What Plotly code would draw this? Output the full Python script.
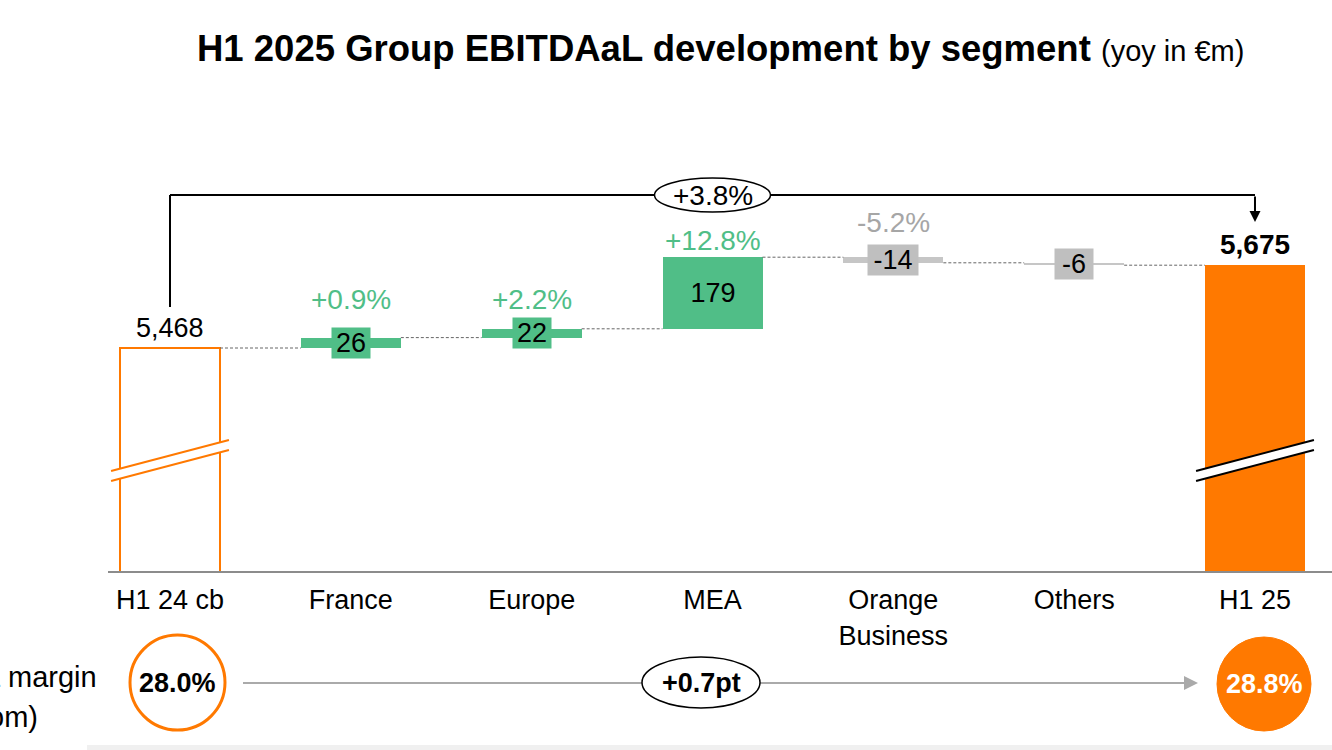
import plotly.graph_objects as go

# ---------------- data ----------------
categories = ["H1 24 cb", "France", "Europe", "MEA", "Orange<br>Business", "Others", "H1 25"]
start_value = 5468
end_value = 5675
deltas = [26, 22, 179, -14, -6]
growth_labels = ["+0.9%", "+2.2%", "+12.8%", "-5.2%", None]
start_label = "5,468"
end_label = "5,675"
total_growth = "+3.8%"
margin_labels = ["28.0%", "28.8%"]
margin_change = "+0.7pt"

# ---------------- style ----------------
FONT = "Liberation Sans, Arial, Helvetica, sans-serif"
ORANGE = "#FF7900"
GREEN = "#50BE87"
GREY_BAR = "#C6C6C6"
GREY_BOX = "#BFBFBF"
GREY_TXT = "#A6A6A6"
BAR_W = 0.553
Y_MIN, Y_MAX = 4910.5, 6088
PLOT_L, PLOT_W, PLOT_T, PLOT_B = 108, 1224, 100, 571
PLOT_H = PLOT_B - PLOT_T
X_MIN = -0.3429
X_MAX = X_MIN + PLOT_W / 180.83
BRACKET_Y = 5850.5
BRACKET_START = 5570.5
ARROW_TIP = 5783
BREAK_LOW = (5135.5, 5213)
BREAK_GAP = 25
growth_shift = [38, 29, 17, 35, 0]


def px(xp):
    return (xp - PLOT_L) / PLOT_W


def py(yp):
    return (PLOT_B - yp) / PLOT_H


# running totals
seg_bases = []
cum = start_value
for d in deltas:
    seg_bases.append(cum)
    cum += d
levels = [start_value] + [b + d for b, d in zip(seg_bases, deltas)]

xs = list(range(len(categories)))
bar_base = [0] + seg_bases + [0]
bar_y = [start_value] + deltas + [end_value]
bar_colors = ["white"] + [GREEN if d > 0 else GREY_BAR for d in deltas] + [ORANGE]
line_colors = [ORANGE] + [GREEN if d > 0 else GREY_BAR for d in deltas] + [ORANGE]
line_widths = [2] + [0] * len(deltas) + [0]

fig = go.Figure()
fig.add_trace(go.Bar(
    x=xs, y=bar_y, base=bar_base, width=BAR_W,
    marker=dict(color=bar_colors, line=dict(color=line_colors, width=line_widths)),
    hoverinfo="skip", showlegend=False,
))

shapes = []
annotations = []


def note(**kw):
    kw.setdefault("xanchor", "center")
    kw.setdefault("yanchor", "middle")
    kw.setdefault("showarrow", False)
    annotations.append(kw)


# dashed connectors
for i, lv in enumerate(levels):
    shapes.append(dict(type="line", xref="x", yref="y",
                       x0=i + BAR_W / 2, x1=i + 1 - BAR_W / 2, y0=lv, y1=lv,
                       line=dict(color="#666666", width=1, dash="3px,2px")))

# axis breaks on the two total bars
for i, col in [(0, ORANGE), (len(categories) - 1, "black")]:
    x0, x1 = i - 0.326, i + 0.326
    ya, yb = BREAK_LOW
    shapes.append(dict(type="path", xref="x", yref="y",
                       path=f"M {x0},{ya} L {x1},{yb} L {x1},{yb + BREAK_GAP} L {x0},{ya + BREAK_GAP} Z",
                       fillcolor="white", line=dict(width=0)))
    for off in (0, BREAK_GAP):
        shapes.append(dict(type="line", xref="x", yref="y",
                           x0=x0, x1=x1, y0=ya + off, y1=yb + off,
                           line=dict(color=col, width=2)))

# bracket
last = len(categories) - 1
shapes.append(dict(type="line", xref="x", yref="y", x0=0, x1=0,
                   y0=BRACKET_START, y1=BRACKET_Y, line=dict(color="black", width=2)))
shapes.append(dict(type="line", xref="x", yref="y", x0=0, x1=last,
                   y0=BRACKET_Y, y1=BRACKET_Y, line=dict(color="black", width=2)))
annotations.append(dict(x=last, y=ARROW_TIP, ax=last, ay=BRACKET_Y, xref="x", yref="y",
                        axref="x", ayref="y", text="", showarrow=True, arrowhead=2,
                        arrowwidth=2, arrowsize=1.1, arrowcolor="black", standoff=0))
shapes.append(dict(type="circle", xref="x", yref="y", xsizemode="pixel", ysizemode="pixel",
                   xanchor=3, yanchor=BRACKET_Y, x0=-58, x1=58, y0=-17, y1=17,
                   fillcolor="white", line=dict(color="black", width=1.5)))
note(x=3, y=BRACKET_Y, xref="x", yref="y", text=total_growth,
     font=dict(family=FONT, size=28, color="black"))

# total labels
note(x=0, y=start_value, xref="x", yref="y", text=start_label, yshift=20,
     font=dict(family=FONT, size=27, color="black"))
note(x=last, y=end_value, xref="x", yref="y", text=f"<b>{end_label}</b>", yshift=21,
     font=dict(family=FONT, size=28, color="black"))

# delta labels
for k, (b, d) in enumerate(zip(seg_bases, deltas)):
    i = k + 1
    col = GREEN if d > 0 else GREY_BOX
    txt = f"{d}"
    note(x=i, y=b + d / 2, xref="x", yref="y", text=txt, bgcolor=col, borderpad=0,
         width=12 * len(txt) + 14, height=30,
         font=dict(family=FONT, size=27, color="black"))
    g = growth_labels[k]
    if g:
        note(x=i, y=max(b, b + d), xref="x", yref="y", text=g, yshift=growth_shift[k],
             font=dict(family=FONT, size=28, color=GREEN if d > 0 else GREY_TXT))

# bottom margin row
shapes.append(dict(type="line", xref="paper", yref="paper",
                   x0=px(243), x1=px(1188), y0=py(683), y1=py(683),
                   line=dict(color="#AAAAAA", width=2)))
annotations.append(dict(x=px(1198), y=py(683), xref="paper", yref="paper",
                        ax=-20, ay=0, axref="pixel", ayref="pixel", text="",
                        showarrow=True, arrowhead=2, arrowwidth=2, arrowsize=1.4,
                        arrowcolor="#AAAAAA", standoff=0))
shapes.append(dict(type="circle", xref="paper", yref="paper",
                   x0=px(130), x1=px(225), y0=py(730), y1=py(635),
                   fillcolor="white", line=dict(color=ORANGE, width=3)))
note(x=px(177.5), y=py(683), xref="paper", yref="paper",
     text=f"<b>{margin_labels[0]}</b>", font=dict(family=FONT, size=27, color="black"))
shapes.append(dict(type="circle", xref="paper", yref="paper",
                   x0=px(642), x1=px(760), y0=py(708), y1=py(657),
                   fillcolor="white", line=dict(color="black", width=1.5)))
note(x=px(701), y=py(683), xref="paper", yref="paper",
     text=f"<b>{margin_change}</b>", font=dict(family=FONT, size=27, color="black"))
shapes.append(dict(type="circle", xref="paper", yref="paper",
                   x0=px(1217), x1=px(1311), y0=py(731), y1=py(637),
                   fillcolor=ORANGE, line=dict(color=ORANGE, width=1)))
note(x=px(1264), y=py(684), xref="paper", yref="paper",
     text=f"<b>{margin_labels[1]}</b>", font=dict(family=FONT, size=27, color="white"))
note(x=px(99), y=py(677), xref="paper", yref="paper", xanchor="right",
     text="EBITDAaL margin", font=dict(family=FONT, size=29, color="black"))
note(x=px(40), y=py(717), xref="paper", yref="paper", xanchor="right",
     text="(in %, yoy from)", font=dict(family=FONT, size=29, color="black"))
shapes.append(dict(type="rect", xref="paper", yref="paper",
                   x0=px(87), x1=px(1332), y0=py(750), y1=py(745),
                   fillcolor="#F0F0F0", line=dict(width=0), layer="below"))

fig.update_layout(
    width=1332, height=750,
    margin=dict(l=PLOT_L, r=1332 - PLOT_L - PLOT_W, t=PLOT_T, b=750 - PLOT_B),
    paper_bgcolor="white", plot_bgcolor="white",
    title=dict(text="<b>H1 2025 Group EBITDAaL development by segment</b> "
                    "<span style='font-size:29px'>(yoy in €m)</span>",
               x=197 / 1332, xanchor="left", y=1 - 48 / 750, yanchor="middle",
               font=dict(family=FONT, size=36.5, color="black")),
    xaxis=dict(range=[X_MIN, X_MAX], tickvals=xs, ticktext=categories,
               showgrid=False, zeroline=False, showline=True, linecolor="#8C8C8C",
               linewidth=2, ticks="", ticklabelstandoff=4,
               tickfont=dict(family=FONT, size=27, color="black"),
               fixedrange=True),
    yaxis=dict(range=[Y_MIN, Y_MAX], visible=False, fixedrange=True),
    shapes=shapes, annotations=annotations,
    bargap=0,
)

fig.write_html("out.html", config={"displayModeBar": False},
               post_script="document.body.style.margin='0';")
